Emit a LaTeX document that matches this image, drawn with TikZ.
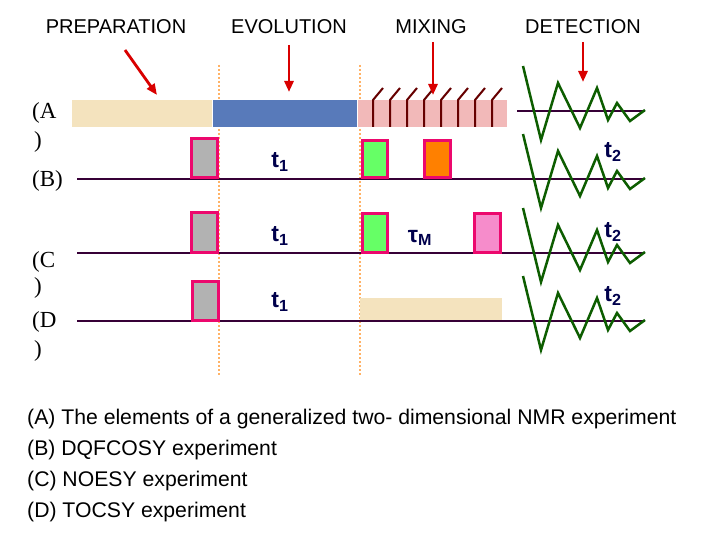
\documentclass[tikz,border=0pt]{standalone}
\usepackage{fontspec}
\usetikzlibrary{arrows.meta}
\setmainfont{Liberation Sans}
\newfontfamily\serifF{Liberation Serif}
\definecolor{evoblue}{RGB}{88,122,186}
\begin{document}
\begin{tikzpicture}[x=1pt,y=-1pt,
  ttl/.style={font=\fontsize{20}{22}\selectfont,anchor=center},
  lbl/.style={font=\serifF\fontsize{23}{25}\selectfont,anchor=west,inner sep=0},
  captxt/.style={font=\fontsize{21.2}{24}\selectfont,anchor=west,inner sep=0},
  tt/.style={font=\bfseries\fontsize{23}{25}\selectfont,text=blue!30!black,inner sep=0},
  redarr/.style={draw=red!85!black,line width=2.8pt,-{Triangle[length=11pt,width=9pt]}},
  pline/.style={draw=black!40!violet!70!black,line width=2.5pt},
  pulse/.style={draw=magenta!70!red,line width=3pt},
  zz/.style={draw=green!35!black!90!olive,line width=2.5pt},
  dsh/.style={draw=orange!60!white,line width=2pt,dash pattern=on 2pt off 2pt},
  mstroke/.style={draw=red!40!black,line width=2pt}]
\useasboundingbox (0,0) rectangle (720,540);
\fill[white] (0,0) rectangle (720,540);
% titles
\node[ttl] (tp) at (116,27) {PREPARATION};
\node[ttl] (te) at (289,27) {EVOLUTION};
\node[ttl] (tm) at (431,27) {MIXING};
\node[ttl] (td) at (583,27) {DETECTION};
% dashed lines
\draw[dsh] (219,65) -- (219,375);
\draw[dsh] (360,65) -- (360,375);
% bar A
\fill[orange!30!yellow!40!brown!30!white] (72,100) rectangle (212,127);
\fill[evoblue] (213,100) rectangle (357,127);
\fill[red!25!white!90!gray] (358,100) rectangle (507,127);
\foreach \x in {373,390,407,424,441,458,475,492}{
  \draw[mstroke] (\x,127) -- (\x,100) -- (\x+10,88);
}
% arrows
\coordinate (a1s) at (125,50); \coordinate (a1e) at (157,95);
\coordinate (a2s) at (289,45); \coordinate (a2e) at (289,92);
\coordinate (a3s) at (433,42); \coordinate (a3e) at (433,95);
\coordinate (a4s) at (583,42); \coordinate (a4e) at (583,82);
\draw[redarr] (a1s) -- (a1e);
\draw[redarr] (a2s) -- (a2e);
\draw[redarr] (a3s) -- (a3e);
\draw[redarr] (a4s) -- (a4e);
% lines
\draw[pline] (517,111) -- (645,111);
\draw[pline] (77,179) -- (645,179);
\draw[pline] (77,253) -- (645,253);
\draw[pline] (77,321) -- (645,321);
% zigzags
\foreach \y in {111,179,253,321}{
 \draw[zz,line join=miter] (523,\y-45) -- (541,\y+29) -- (558,\y-28) -- (580,\y+17) -- (597,\y-23) -- (608,\y+9) -- (617,\y-8) -- (630,\y+10) -- (645,\y-1);
}
% pulses B
\filldraw[pulse,fill=gray!60] (191,139) rectangle (217,178);
\filldraw[pulse,fill=green!60!white] (362,141) rectangle (387,178);
\filldraw[pulse,fill=orange] (424,141) rectangle (450,178);
% pulses C
\filldraw[pulse,fill=gray!60] (191,213) rectangle (217,252);
\filldraw[pulse,fill=green!60!white] (362,214) rectangle (387,252);
\filldraw[pulse,fill=magenta!45!white] (474,214) rectangle (500,252);
% pulses D
\filldraw[pulse,fill=gray!60] (192,281) rectangle (218,320);
\fill[orange!30!yellow!40!brown!30!white] (360,298) rectangle (502,320);
% t labels
\node[tt] (t1b) at (280,162) {t\textsubscript{1}};
\node[tt] (t1c) at (280,236) {t\textsubscript{1}};
\node[tt] (t1d) at (280,302) {t\textsubscript{1}};
\node[tt] (t2b) at (613,152) {t\textsubscript{2}};
\node[tt] (t2c) at (613,232) {t\textsubscript{2}};
\node[tt] (t2d) at (613,296) {t\textsubscript{2}};
\node[tt] (tau) at (420,238) {τ\textsubscript{M}};
% left labels
\node[lbl] (la) at (32,113) {(A};
\node[lbl] (la2) at (34,142) {)};
\node[lbl] (lb) at (32,181) {(B)};
\node[lbl] (lc) at (32,262) {(C};
\node[lbl] (lc2) at (34,288) {)};
\node[lbl] (ld) at (32,322) {(D};
\node[lbl] (ld2) at (34,351) {)};
% captions
\node[captxt] (c1) at (27,419) {(A) The elements of a generalized two- dimensional NMR experiment};
\node[captxt] (c2) at (27,450) {(B) DQFCOSY experiment};
\node[captxt] (c3) at (27,481) {(C) NOESY experiment};
\node[captxt] (c4) at (27,512) {(D) TOCSY experiment};
\end{tikzpicture}
\end{document}
